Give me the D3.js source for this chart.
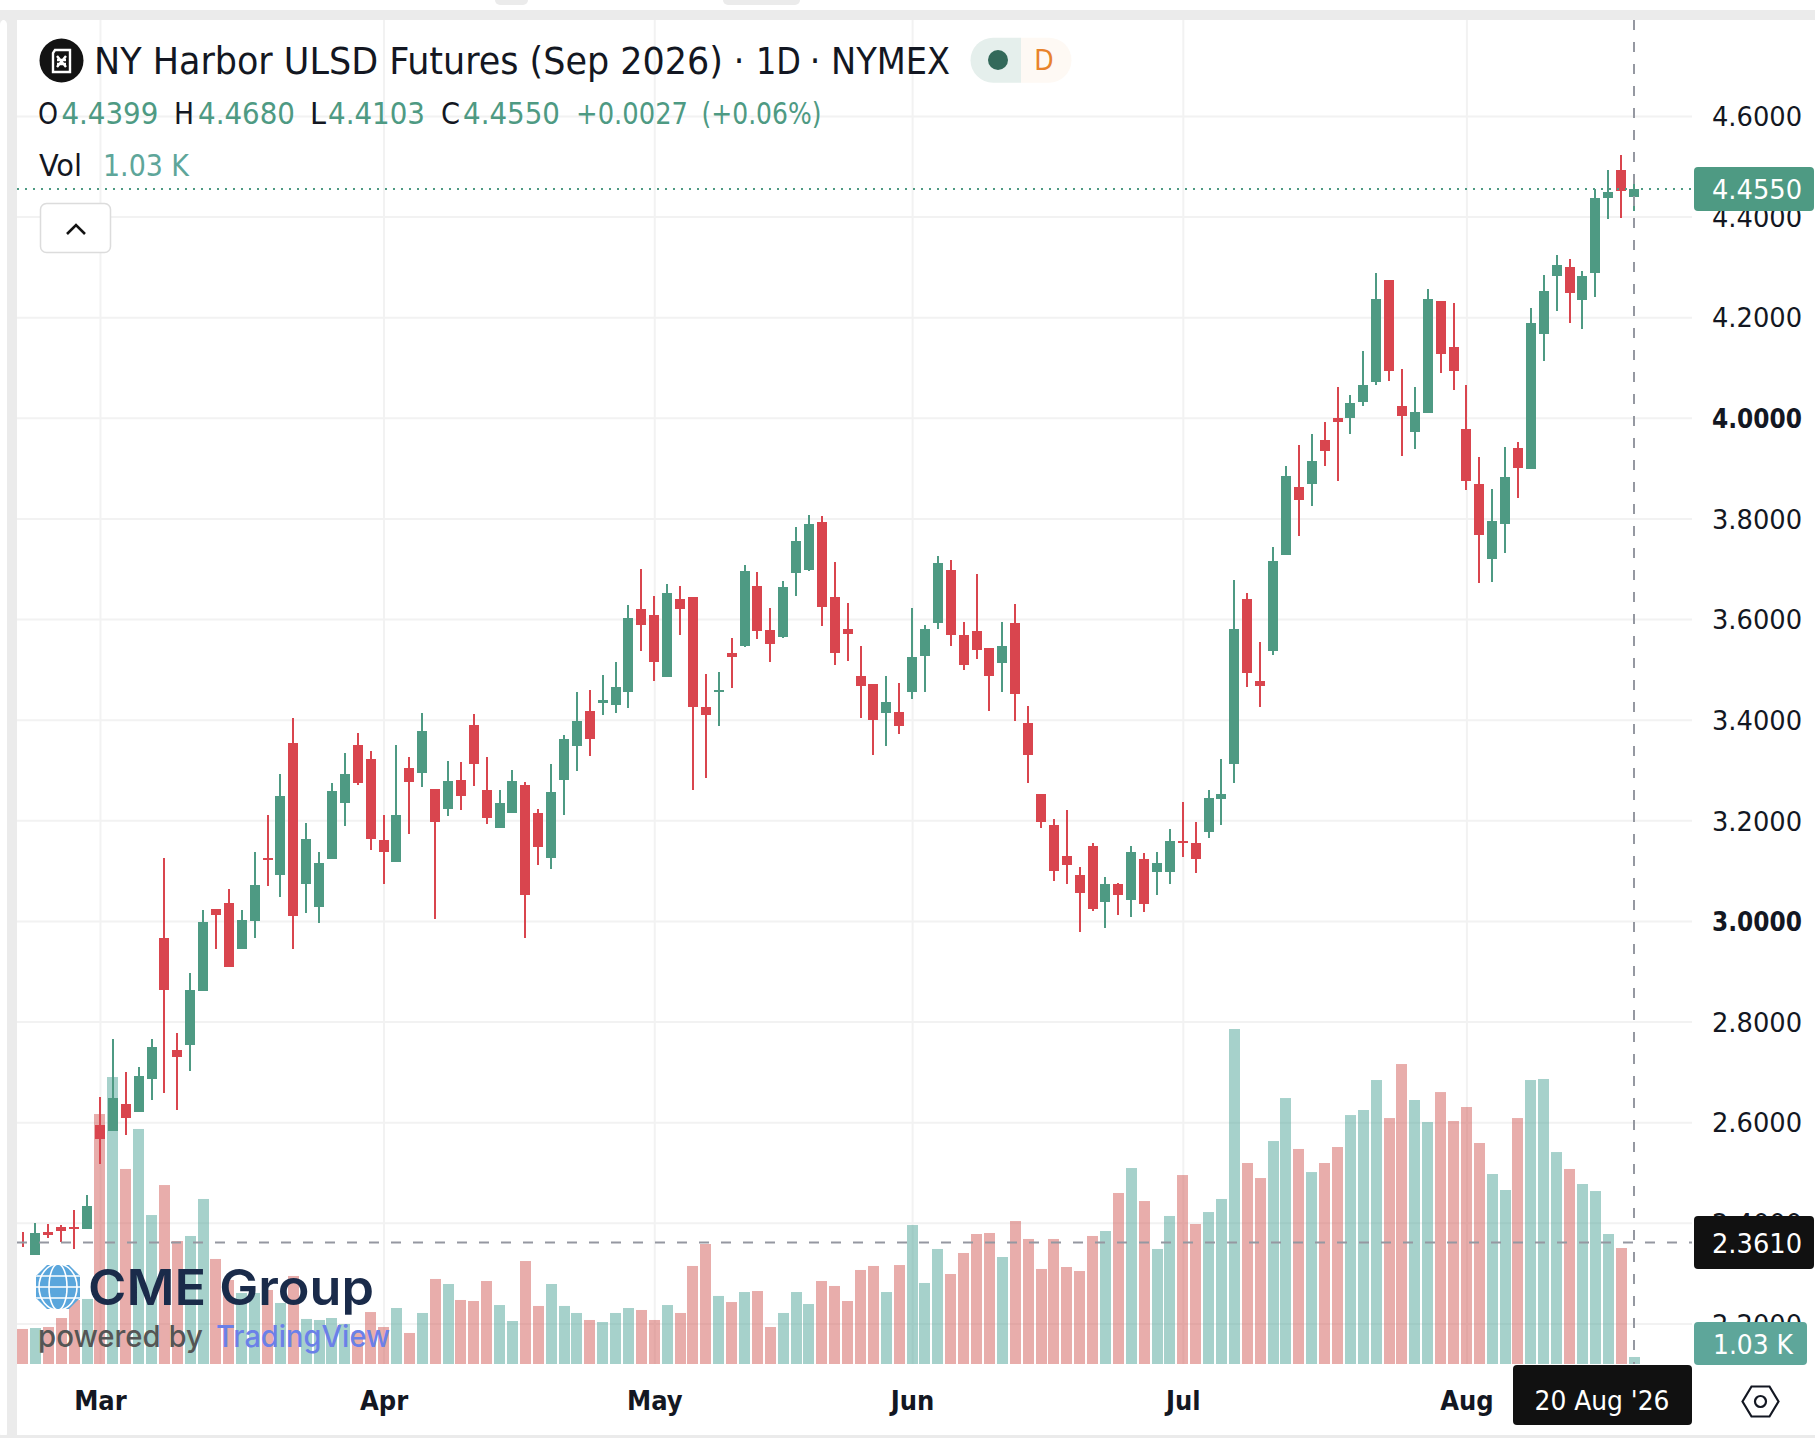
<!DOCTYPE html>
<html>
<head>
<meta charset="utf-8">
<title>NY Harbor ULSD Futures</title>
<script src="https://cdn.jsdelivr.net/npm/d3@7"></script>
<style>
  html, body { margin: 0; padding: 0; background: #fff; }
  svg { display: block; }
  text { font-family: "DejaVu Sans Condensed", "DejaVu Sans", sans-serif; }
</style>
</head>
<body>
<div id="chart"></div>
<script>
const opens = [
  2.366, 2.336, 2.381, 2.391, 2.391, 2.388, 2.594, 2.582, 2.637, 2.621,
  2.686, 2.966, 2.743, 2.754, 2.861, 3.024, 3.036, 2.944, 3.000, 3.125,
  3.091, 3.354, 3.073, 3.028, 3.123, 3.234, 3.350, 3.322, 3.161, 3.117,
  3.304, 3.294, 3.262, 3.223, 3.280, 3.390, 3.260, 3.185, 3.215, 3.270,
  3.215, 3.125, 3.280, 3.348, 3.417, 3.433, 3.429, 3.455, 3.620, 3.608,
  3.485, 3.640, 3.644, 3.425, 3.455, 3.533, 3.546, 3.666, 3.578, 3.564,
  3.692, 3.698, 3.793, 3.644, 3.580, 3.487, 3.471, 3.413, 3.415, 3.455,
  3.527, 3.592, 3.698, 3.568, 3.576, 3.542, 3.513, 3.592, 3.393, 3.252,
  3.191, 3.129, 3.091, 3.149, 3.038, 3.073, 3.042, 3.123, 3.097, 3.097,
  3.159, 3.155, 3.177, 3.242, 3.312, 3.640, 3.477, 3.537, 3.727, 3.863,
  3.869, 3.956, 4.000, 4.000, 4.032, 4.071, 4.274, 4.024, 3.972, 4.010,
  4.232, 4.141, 3.978, 3.869, 3.719, 3.789, 3.940, 3.898, 4.167, 4.282,
  4.300, 4.234, 4.288, 4.437, 4.493, 4.4399
];
const highs = [
  2.382, 2.399, 2.398, 2.396, 2.425, 2.455, 2.651, 2.766, 2.700, 2.710,
  2.766, 3.125, 2.777, 2.897, 3.022, 3.024, 3.063, 3.022, 3.137, 3.211,
  3.292, 3.403, 3.195, 3.137, 3.274, 3.334, 3.374, 3.338, 3.211, 3.350,
  3.326, 3.413, 3.262, 3.318, 3.316, 3.411, 3.326, 3.260, 3.300, 3.276,
  3.223, 3.312, 3.370, 3.455, 3.459, 3.489, 3.515, 3.628, 3.700, 3.646,
  3.670, 3.666, 3.644, 3.491, 3.495, 3.562, 3.708, 3.694, 3.622, 3.676,
  3.783, 3.807, 3.805, 3.713, 3.632, 3.546, 3.471, 3.487, 3.473, 3.622,
  3.588, 3.725, 3.717, 3.594, 3.690, 3.542, 3.594, 3.630, 3.427, 3.252,
  3.203, 3.221, 3.107, 3.155, 3.087, 3.075, 3.149, 3.135, 3.137, 3.183,
  3.236, 3.197, 3.260, 3.322, 3.678, 3.652, 3.554, 3.743, 3.904, 3.946,
  3.968, 3.992, 4.061, 4.045, 4.133, 4.288, 4.274, 4.097, 4.061, 4.256,
  4.232, 4.228, 4.065, 3.922, 3.859, 3.942, 3.952, 4.218, 4.284, 4.324,
  4.316, 4.292, 4.455, 4.493, 4.523, 4.4680
];
const lows = [
  2.352, 2.336, 2.370, 2.362, 2.348, 2.388, 2.517, 2.582, 2.575, 2.621,
  2.644, 2.658, 2.624, 2.702, 2.861, 2.944, 2.909, 2.944, 2.966, 3.069,
  3.048, 2.944, 3.016, 2.996, 3.123, 3.189, 3.270, 3.141, 3.073, 3.117,
  3.173, 3.266, 3.004, 3.209, 3.221, 3.268, 3.193, 3.185, 3.215, 2.966,
  3.111, 3.103, 3.211, 3.298, 3.328, 3.409, 3.413, 3.423, 3.537, 3.477,
  3.485, 3.568, 3.260, 3.284, 3.387, 3.463, 3.544, 3.560, 3.515, 3.562,
  3.646, 3.696, 3.586, 3.509, 3.517, 3.403, 3.330, 3.348, 3.372, 3.441,
  3.455, 3.580, 3.546, 3.499, 3.521, 3.417, 3.455, 3.397, 3.274, 3.185,
  3.079, 3.073, 2.978, 3.020, 2.986, 3.012, 3.008, 3.018, 3.052, 3.073,
  3.127, 3.095, 3.165, 3.191, 3.274, 3.465, 3.425, 3.529, 3.727, 3.765,
  3.825, 3.904, 3.875, 3.968, 4.024, 4.065, 4.073, 3.924, 3.938, 4.010,
  4.089, 4.055, 3.857, 3.672, 3.674, 3.731, 3.841, 3.898, 4.113, 4.212,
  4.189, 4.177, 4.240, 4.395, 4.397, 4.4103
];
const closes = [
  2.366, 2.380, 2.376, 2.384, 2.388, 2.434, 2.566, 2.648, 2.608, 2.692,
  2.750, 2.863, 2.729, 2.863, 2.998, 3.012, 2.909, 3.002, 3.071, 3.121,
  3.248, 3.010, 3.163, 3.115, 3.258, 3.292, 3.274, 3.163, 3.137, 3.211,
  3.276, 3.378, 3.197, 3.278, 3.248, 3.312, 3.205, 3.234, 3.278, 3.052,
  3.147, 3.256, 3.362, 3.397, 3.362, 3.439, 3.465, 3.602, 3.588, 3.515,
  3.652, 3.620, 3.425, 3.409, 3.459, 3.525, 3.696, 3.576, 3.550, 3.664,
  3.755, 3.789, 3.624, 3.533, 3.570, 3.467, 3.399, 3.435, 3.387, 3.525,
  3.580, 3.711, 3.568, 3.509, 3.539, 3.487, 3.546, 3.451, 3.330, 3.197,
  3.099, 3.111, 3.056, 3.024, 3.073, 3.052, 3.137, 3.034, 3.115, 3.159,
  3.155, 3.123, 3.244, 3.252, 3.580, 3.493, 3.467, 3.715, 3.884, 3.837,
  3.914, 3.934, 3.992, 4.030, 4.065, 4.236, 4.093, 4.004, 4.012, 4.236,
  4.127, 4.093, 3.875, 3.767, 3.795, 3.882, 3.900, 4.189, 4.252, 4.304,
  4.248, 4.282, 4.437, 4.449, 4.451, 4.4550
];
// volume in thousands
const volumes = [
  5.15, 5.29, 5.44, 6.76, 9.41, 9.56, 36.75, 42.19, 28.67, 34.55,
  21.90, 26.31, 18.08, 18.82, 24.26, 15.44, 12.35, 10.44, 10.44, 10.88,
  8.97, 12.94, 6.62, 6.47, 6.76, 5.88, 4.70, 7.64, 5.44, 8.23,
  4.56, 7.50, 12.50, 11.76, 9.41, 9.26, 12.20, 8.67, 6.32, 15.14,
  8.53, 11.76, 8.53, 7.50, 6.47, 6.17, 7.50, 8.23, 7.94, 6.47,
  8.67, 7.50, 14.41, 17.64, 10.00, 9.11, 10.58, 10.73, 5.44, 7.50,
  10.58, 8.82, 12.20, 11.47, 9.26, 13.82, 14.41, 10.58, 14.55, 20.43,
  11.91, 16.91, 13.23, 16.32, 19.11, 19.26, 15.73, 21.02, 18.38, 13.97,
  18.38, 14.26, 13.67, 18.82, 19.55, 25.14, 28.81, 23.96, 16.91, 21.76,
  27.78, 20.58, 22.34, 24.26, 49.25, 29.55, 27.34, 32.78, 39.10, 31.61,
  28.22, 29.55, 31.90, 36.60, 37.34, 41.75, 36.16, 44.10, 38.81, 35.57,
  39.98, 35.72, 37.78, 32.49, 27.93, 25.58, 36.16, 41.75, 41.90, 31.16,
  28.67, 26.46, 25.43, 19.11, 17.05, 1.03
];
const priceTicks = [4.6, 4.4, 4.2, 4.0, 3.8, 3.6, 3.4, 3.2, 3.0, 2.8, 2.6, 2.4, 2.2];
const boldTicks = [4.0, 3.0];
const monthLabels = ['Mar', 'Apr', 'May', 'Jun', 'Jul', 'Aug'];
const monthStarts = [6, 28, 49, 69, 90, 112];
const lastPrice = 4.4550;
const lastChange = 0.0027;
const crossPrice = 2.3610;
const crossDate = "20 Aug '26";

const width = 1815, height = 1438;
const paneLeft = 17, paneTop = 20, paneRight = 1692, paneBottom = 1364;
const green = '#4e9a83', red = '#d9454e', ink = '#131722', gridColor = '#f2f2f2', grey = '#ebebeb';
const dashColor = '#9598a1', volColor = '#5ea69a';
const bodyW = 10, wickW = 2, barW = 11;

const svg = d3.select('#chart').append('svg')
  .attr('width', width)
  .attr('height', height);

const x = d3.scaleLinear().domain([0, opens.length - 1]).range([22.6, 1634]);
const y = d3.scaleLinear().domain([4.6, 2.2]).range([116, 1323.4]);
const yVol = d3.scaleLinear().domain([0, 49.25]).range([paneBottom, 1029]);
const rising = (i) => closes[i] > opens[i];
const idx = d3.range(opens.length);

// page frame around the chart
svg.append('rect').attr('width', width).attr('height', height).attr('fill', '#fff');
svg.append('rect').attr('x', 0).attr('y', 10).attr('width', width).attr('height', 10).attr('fill', grey);
svg.append('rect').attr('x', 0).attr('y', 10).attr('width', 17).attr('height', height - 13).attr('fill', grey);
svg.append('rect').attr('x', 0).attr('y', 20).attr('width', 7).attr('height', height - 20).attr('rx', 5).attr('fill', '#fff');
svg.append('rect').attr('x', 0).attr('y', 1435).attr('width', width).attr('height', 3).attr('fill', grey);
svg.append('rect').attr('x', 17).attr('y', 20).attr('width', width - 17).attr('height', 1415).attr('rx', 6).attr('fill', '#fff');
svg.append('rect').attr('x', 495).attr('y', -6).attr('width', 33).attr('height', 11).attr('rx', 5).attr('fill', grey);
svg.append('rect').attr('x', 723).attr('y', -6).attr('width', 77).attr('height', 11).attr('rx', 5).attr('fill', grey);

svg.append('clipPath').attr('id', 'pane').append('rect')
  .attr('x', paneLeft).attr('y', paneTop).attr('width', paneRight - paneLeft).attr('height', paneBottom - paneTop);

// grid
const gridY = svg.append('g')
  .attr('transform', `translate(${paneLeft},0)`)
  .call(d3.axisRight(y).tickValues(priceTicks).tickSize(paneRight - paneLeft).tickFormat(''));
const gridX = svg.append('g')
  .attr('transform', `translate(0,${paneTop})`)
  .call(d3.axisBottom(x).tickValues(monthStarts).tickSize(paneBottom - paneTop).tickFormat(''));
[gridY, gridX].forEach((g) => {
  g.select('.domain').remove();
  g.selectAll('line').attr('stroke', gridColor).attr('stroke-width', 2);
});

const pane = svg.append('g').attr('clip-path', 'url(#pane)');

pane.append('g').selectAll('rect')
  .data(idx)
  .enter()
  .append('rect')
  .attr('x', (i) => Math.round(x(i) - barW / 2))
  .attr('y', (i) => yVol(volumes[i]))
  .attr('width', barW)
  .attr('height', (i) => paneBottom - yVol(volumes[i]))
  .attr('fill', (i) => rising(i) ? '#4da397' : '#d15b57')
  .attr('fill-opacity', 0.5);

// last price and crosshair lines
svg.append('line')
  .attr('x1', paneLeft).attr('x2', paneRight).attr('y1', y(lastPrice)).attr('y2', y(lastPrice))
  .attr('stroke', green).attr('stroke-width', 2).attr('stroke-dasharray', '2 6');
svg.append('line')
  .attr('x1', paneLeft).attr('x2', paneRight).attr('y1', y(crossPrice)).attr('y2', y(crossPrice))
  .attr('stroke', dashColor).attr('stroke-width', 2).attr('stroke-dasharray', '10 12');

const candle = pane.append('g').selectAll('g')
  .data(idx)
  .enter()
  .append('g')
  .attr('fill', (i) => rising(i) ? green : red)
  .attr('shape-rendering', 'crispEdges');

candle.append('rect')
  .attr('x', (i) => Math.round(x(i)) - wickW / 2)
  .attr('y', (i) => y(highs[i]))
  .attr('width', wickW)
  .attr('height', (i) => y(lows[i]) - y(highs[i]));

candle.append('rect')
  .attr('x', (i) => Math.round(x(i)) - bodyW / 2)
  .attr('y', (i) => y(Math.max(opens[i], closes[i])))
  .attr('width', bodyW)
  .attr('height', (i) => Math.abs(y(opens[i]) - y(closes[i])));

svg.append('line')
  .attr('x1', x(opens.length - 1)).attr('x2', x(opens.length - 1)).attr('y1', paneTop).attr('y2', paneBottom)
  .attr('stroke', dashColor).attr('stroke-width', 2).attr('stroke-dasharray', '10 12');

// axes
const yAxis = svg.append('g')
  .attr('transform', `translate(${paneRight},0)`)
  .call(d3.axisRight(y).tickValues(priceTicks).tickSize(0).tickPadding(20).tickFormat(d3.format('.4f')));
yAxis.select('.domain').remove();
yAxis.selectAll('text')
  .attr('fill', ink)
  .attr('textLength', 90)
  .attr('lengthAdjust', 'spacingAndGlyphs')
  .attr('dy', '0.36em')
  .style('font-size', '27px')
  .style('font-weight', (d) => boldTicks.includes(d) ? 700 : 400);

const xAxis = svg.append('g')
  .attr('transform', `translate(0,${paneBottom})`)
  .call(d3.axisBottom(x).tickValues(monthStarts).tickSize(0).tickFormat((d, i) => monthLabels[i]));
xAxis.select('.domain').remove();
xAxis.selectAll('text')
  .attr('y', 46)
  .attr('dy', 0)
  .attr('fill', ink)
  .style('font-size', '27px')
  .style('font-weight', 700);

function label(g, str, px, py, size, fill, opts) {
  const o = opts || {};
  const t = g.append('text')
    .attr('x', px)
    .attr('y', py)
    .attr('fill', fill)
    .style('font-size', size + 'px')
    .style('font-weight', o.weight || 400)
    .attr('text-anchor', o.anchor || 'start')
    .text(str);
  if (o.len) t.attr('textLength', o.len).attr('lengthAdjust', 'spacingAndGlyphs');
  return t;
}

// price scale tags, drawn over the tick labels
svg.append('rect').attr('x', 1694).attr('y', 167).attr('width', 120).attr('height', 44).attr('rx', 4).attr('fill', green);
label(svg, d3.format('.4f')(lastPrice), 1712, 199, 27, '#fff', { len: 90 });
svg.append('rect').attr('x', 1694).attr('y', 1216).attr('width', 120).attr('height', 53).attr('rx', 4).attr('fill', '#111');
label(svg, d3.format('.4f')(crossPrice), 1712, 1253, 27, '#fff', { len: 90 });
svg.append('rect').attr('x', 1694).attr('y', 1322).attr('width', 113).attr('height', 43).attr('rx', 4).attr('fill', volColor);
label(svg, d3.format('.2f')(volumes[volumes.length - 1]) + ' K', 1713, 1354, 27, '#fff', { len: 80 });

svg.append('rect').attr('x', 1513).attr('y', 1365).attr('width', 179).attr('height', 60).attr('rx', 4).attr('fill', '#111');
label(svg, crossDate, 1602, 1410, 27, '#fff', { anchor: 'middle', len: 135 });

// settings hexagon
svg.append('path')
  .attr('d', 'M1742.5 1401.5 L1751.5 1386.5 L1769.5 1386.5 L1778.5 1401.5 L1769.5 1416.5 L1751.5 1416.5 Z')
  .attr('fill', 'none').attr('stroke', ink).attr('stroke-width', 2.2);
svg.append('circle').attr('cx', 1760.5).attr('cy', 1401.5).attr('r', 5.5)
  .attr('fill', 'none').attr('stroke', ink).attr('stroke-width', 2.2);

// header
svg.append('circle').attr('cx', 61.5).attr('cy', 60.5).attr('r', 22).attr('fill', '#131313');
svg.append('path')
  .attr('d', 'M55 50 H70 V72 H53 V53 Z M57 56 L66 67 M66 56 L57 67 M57 60 H66 M57 64 H66')
  .attr('fill', 'none').attr('stroke', '#fff').attr('stroke-width', 2.4);
label(svg, 'NY Harbor ULSD Futures (Sep 2026)', 94, 74, 37, ink, { len: 629 });
label(svg, '·', 739, 74, 37, ink, { anchor: 'middle' });
label(svg, '1D', 756, 74, 37, ink, { len: 45 });
label(svg, '·', 815, 74, 37, ink, { anchor: 'middle' });
label(svg, 'NYMEX', 831, 74, 37, ink, { len: 119 });

svg.append('path').attr('d', 'M1021 37.7 H993 A22.5 22.5 0 0 0 993 82.7 H1021 Z').attr('fill', '#e5efec');
svg.append('path').attr('d', 'M1021 37.7 H1049 A22.5 22.5 0 0 1 1049 82.7 H1021 Z').attr('fill', '#fef9f4');
svg.append('circle').attr('cx', 998).attr('cy', 60).attr('r', 10).attr('fill', '#33695a');
label(svg, 'D', 1044, 69.5, 28, '#e8832b', { anchor: 'middle', weight: 500 });

const last = opens.length - 1;
const fmt = d3.format('.4f');
label(svg, 'O', 38, 124, 31, ink, { len: 20 });
label(svg, fmt(opens[last]), 61.4, 124, 31, green, { len: 97 });
label(svg, 'H', 174, 124, 31, ink, { len: 20 });
label(svg, fmt(highs[last]), 198, 124, 31, green, { len: 97 });
label(svg, 'L', 310, 124, 31, ink, { len: 16 });
label(svg, fmt(lows[last]), 328, 124, 31, green, { len: 97 });
label(svg, 'C', 441, 124, 31, ink, { len: 19 });
label(svg, fmt(closes[last]), 463, 124, 31, green, { len: 97 });
label(svg, '+' + fmt(lastChange), 576, 124, 31, green, { len: 112 });
label(svg, '(+0.06%)', 701.5, 124, 31, green, { len: 120 });
label(svg, 'Vol', 39, 175.7, 31, ink, { len: 43 });
label(svg, d3.format('.2f')(volumes[last]) + ' K', 103, 175.7, 31, volColor, { len: 86 });

svg.append('rect').attr('x', 40.5).attr('y', 203.5).attr('width', 70).attr('height', 49).attr('rx', 6)
  .attr('fill', '#fff').attr('stroke', '#dcdcdc').attr('stroke-width', 1.5);
svg.append('path').attr('d', 'M67 234 L76 225 L85 234').attr('fill', 'none').attr('stroke', '#131313').attr('stroke-width', 2.6);

// CME Group / TradingView watermark
const mark = svg.append('g');
const globeClip = mark.append('clipPath').attr('id', 'globe');
globeClip.append('path').attr('d', 'M47 1265 H69 L80 1276 V1298 L69 1309 H47 L36 1298 V1276 Z');
const globe = mark.append('g').attr('clip-path', 'url(#globe)');
globe.append('rect').attr('x', 35).attr('y', 1264).attr('width', 46).attr('height', 46).attr('fill', '#5aa6dc');
globe.selectAll('ellipse').data([0, 9, 19]).enter().append('ellipse')
  .attr('cx', 58).attr('cy', 1287).attr('rx', (d) => d).attr('ry', 23)
  .attr('fill', 'none').attr('stroke', '#fff').attr('stroke-width', 1.6);
globe.selectAll('line').data([1276, 1287, 1298]).enter().append('line')
  .attr('x1', 35).attr('x2', 81).attr('y1', (d) => d).attr('y2', (d) => d)
  .attr('stroke', '#fff').attr('stroke-width', 1.6);
label(mark, 'CME Group', 88, 1305, 50, '#1a2b4a', { weight: 600, len: 286 }).style('font-family', 'Inter, sans-serif');
label(mark, 'powered by', 38, 1347, 30, '#555', { weight: 500, len: 165 }).style('font-family', 'Inter, sans-serif');
label(mark, 'TradingView', 216, 1347, 30, '#6b80e8', { weight: 500, len: 174 }).style('font-family', 'Inter, sans-serif');
</script>
</body>
</html>
